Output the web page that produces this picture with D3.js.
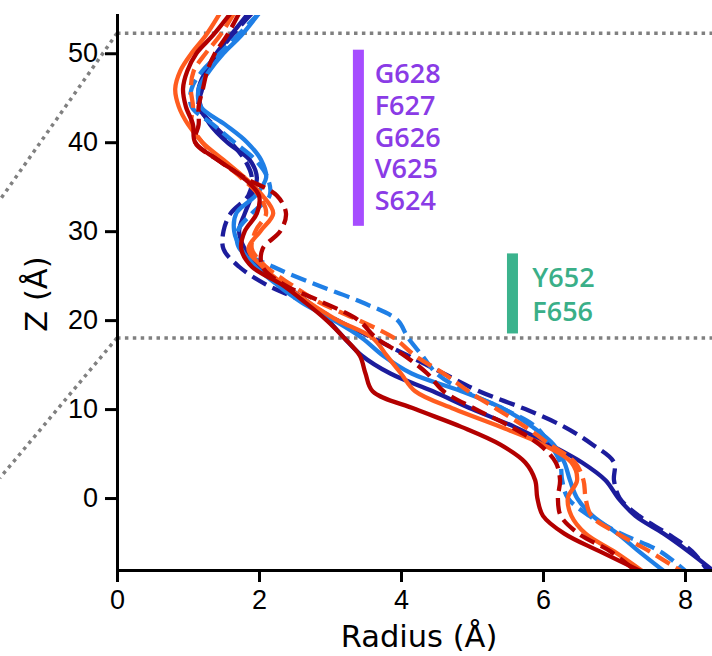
<!DOCTYPE html>
<html>
<head>
<meta charset="utf-8">
<script src="https://cdn.jsdelivr.net/npm/d3@7"></script>
<style>
  body { margin: 0; background: #fff; }
  svg { display: block; font-family: "DejaVu Sans", sans-serif; }
  .axis text { font-size: 27px; fill: #000; }
  .axis path, .axis line { stroke: #000; stroke-width: 3px; }
</style>
</head>
<body>
<svg width="712" height="656"></svg>
<script>
"use strict";
// z positions (Å) at which each profile was read
const zValues = [54.5, 52, 50, 48, 46, 44, 42, 40, 38, 36, 34, 32, 30, 28, 26, 24, 22, 20, 18, 16, 14, 12, 10, 8, 6, 4, 2, 0, -2, -4, -6, -8.5];

// pore radius profiles (Å)
const navySolid   = [1.85, 1.6, 1.4, 1.25, 1.15, 1.18, 1.31, 1.55, 1.87, 1.97, 1.9, 1.8, 1.72, 1.8, 2.0, 2.35, 2.7, 2.97, 3.2, 3.45, 3.85, 4.45, 5.0, 5.6, 6.1, 6.55, 6.88, 7.06, 7.3, 7.7, 8.05, 8.45];
const navyDashed  = [1.9, 1.62, 1.42, 1.25, 1.2, 1.15, 1.35, 1.6, 1.8, 1.9, 1.85, 1.6, 1.5, 1.5, 1.72, 2.1, 2.65, 3.1, 3.6, 4.1, 4.6, 5.1, 5.75, 6.3, 6.7, 7.0, 7.0, 7.08, 7.35, 7.75, 8.1, 8.35];
const blueSolid   = [2.0, 1.75, 1.5, 1.3, 1.15, 1.18, 1.52, 1.83, 2.03, 2.1, 1.95, 1.68, 1.65, 1.75, 1.95, 2.25, 2.6, 3.05, 3.45, 3.75, 4.15, 4.85, 5.45, 5.85, 6.15, 6.3, 6.38, 6.48, 6.7, 7.05, 7.35, 7.75];
const blueDashed  = [2.0, 1.7, 1.45, 1.2, 1.05, 1.05, 1.35, 1.65, 1.95, 2.12, 2.15, 1.9, 1.7, 1.73, 2.2, 2.8, 3.45, 3.95, 4.1, 4.3, 4.5, 4.9, 5.45, 5.9, 6.1, 6.24, 6.27, 6.35, 6.65, 7.1, 7.65, 8.05];
const orangeSolid = [1.45, 1.25, 1.05, 0.89, 0.82, 0.87, 1.0, 1.2, 1.5, 1.8, 2.05, 2.2, 2.02, 1.85, 2.05, 2.35, 2.7, 3.1, 3.6, 3.8, 4.0, 4.2, 4.75, 5.4, 6.0, 6.4, 6.48, 6.35, 6.4, 6.6, 7.0, 7.45];
const orangeDashed= [1.65, 1.45, 1.25, 1.08, 1.04, 1.07, 1.05, 1.2, 1.45, 1.75, 2.0, 2.1, 1.95, 1.9, 2.1, 2.45, 2.85, 3.4, 3.9, 4.2, 4.6, 4.95, 5.35, 5.75, 6.1, 6.45, 6.57, 6.6, 6.68, 7.05, 7.5, 8.0];
const redSolid    = [1.6, 1.35, 1.12, 0.99, 0.93, 0.97, 1.07, 1.1, 1.42, 1.78, 2.0, 1.97, 1.8, 1.75, 1.9, 2.32, 2.65, 2.95, 3.2, 3.42, 3.5, 3.6, 4.2, 4.85, 5.4, 5.75, 5.89, 5.92, 6.0, 6.3, 6.8, 7.45];
const redDashed   = [1.72, 1.55, 1.38, 1.27, 1.21, 1.15, 1.15, 1.1, 1.42, 1.8, 2.25, 2.38, 2.3, 2.05, 2.05, 2.35, 2.9, 3.4, 3.65, 4.05, 4.37, 4.6, 5.05, 5.55, 5.95, 6.18, 6.24, 6.21, 6.25, 6.5, 6.95, 7.35];

const seriesList = [
  { values: navySolid,    color: "#1c1c9c", dashed: false },
  { values: navyDashed,   color: "#1c1c9c", dashed: true },
  { values: blueSolid,    color: "#1f7fe6", dashed: false },
  { values: blueDashed,   color: "#1f7fe6", dashed: true },
  { values: orangeSolid,  color: "#ff5c1f", dashed: false },
  { values: orangeDashed, color: "#ff5c1f", dashed: true },
  { values: redSolid,     color: "#b30000", dashed: false },
  { values: redDashed,    color: "#b30000", dashed: true }
];

// membrane boundaries and their guide lines out to the left
const boundaryZ = [52.25, 18.0];
const guideEnds = [{ r: -1.65, z: 33.5 }, { r: -1.65, z: 2.25 }];

// residue annotations
const selectivityResidues = ["G628", "F627", "G626", "V625", "S624"];
const gateResidues = ["Y652", "F656"];

const svg = d3.select("svg");
const x = d3.scaleLinear().domain([0, 8.5]).range([117, 720.5]);
const y = d3.scaleLinear().domain([-8.09, 54.3]).range([570, 15]);

svg.append("defs").append("clipPath")
  .attr("id", "plotClip")
  .append("rect")
  .attr("x", 117).attr("y", 15)
  .attr("width", 600).attr("height", 555);

// dotted boundary lines
const dotted = svg.append("g")
  .attr("stroke", "#808080")
  .attr("stroke-width", 3.5)
  .attr("stroke-dasharray", "3.5,4.4")
  .attr("fill", "none");
boundaryZ.forEach((z, i) => {
  dotted.append("line")
    .attr("x1", x(0)).attr("x2", 712)
    .attr("y1", y(z)).attr("y2", y(z));
  dotted.append("line")
    .attr("x1", x(0)).attr("y1", y(z))
    .attr("x2", x(guideEnds[i].r)).attr("y2", y(guideEnds[i].z));
});

// profiles
const line = d3.line()
  .x(d => x(d.r))
  .y(d => y(d.z))
  .curve(d3.curveCatmullRom.alpha(0.5));

svg.append("g")
  .attr("clip-path", "url(#plotClip)")
  .selectAll("path")
  .data(seriesList)
  .enter()
  .append("path")
  .attr("d", s => line(s.values.map((r, i) => ({ r: r, z: zValues[i] }))))
  .attr("fill", "none")
  .attr("stroke", s => s.color)
  .attr("stroke-width", 4.3)
  .attr("stroke-linejoin", "round")
  .attr("stroke-dasharray", s => s.dashed ? "16,7" : null);

// annotation bars + labels
function annotate(labels, zTop, zBottom, rBar, rText, zFirst, step, barColor, textColor) {
  svg.append("rect")
    .attr("x", x(rBar) - 5.5)
    .attr("y", y(zTop))
    .attr("width", 11)
    .attr("height", y(zBottom) - y(zTop))
    .attr("fill", barColor);
  svg.append("g")
    .selectAll("text")
    .data(labels)
    .enter()
    .append("text")
    .attr("x", x(rText))
    .attr("y", (d, i) => y(zFirst - i * step))
    .attr("dy", "0.36em")
    .style("font-family", "'Open Sans', sans-serif")
    .style("font-weight", 600)
    .style("font-size", "27px")
    .style("fill", textColor)
    .text(d => d);
}
annotate(selectivityResidues, 50.4, 30.6, 3.4, 3.63, 47.75, 3.57, "#a64dff", "#8a3be6");
annotate(gateResidues, 27.5, 18.5, 5.57, 5.85, 24.8, 3.8, "#3bb38d", "#3aaf88");

// axes
const xAxis = svg.append("g")
  .attr("class", "axis")
  .attr("transform", `translate(0, ${y.range()[0]})`);
xAxis.call(d3.axisBottom(x)
  .tickValues(d3.range(0, 8.6, 0.5).filter(v => v % 2 !== 0))
  .tickSize(7)
  .tickSizeOuter(0)
  .tickFormat(""));
xAxis.call(d3.axisBottom(x)
  .tickValues([0, 2, 4, 6, 8])
  .tickSize(12)
  .tickSizeOuter(0)
  .tickPadding(8));

const yAxis = svg.append("g")
  .attr("class", "axis")
  .attr("transform", `translate(${x(0)}, 0)`);
yAxis.call(d3.axisLeft(y)
  .tickValues(d3.range(-8, 55, 2).filter(v => v % 10 !== 0))
  .tickSize(7)
  .tickSizeOuter(0)
  .tickFormat(""));
yAxis.call(d3.axisLeft(y)
  .tickValues([0, 10, 20, 30, 40, 50])
  .tickSize(12)
  .tickSizeOuter(0)
  .tickPadding(7));

svg.selectAll(".axis path.domain").attr("stroke-linecap", "square");

svg.append("text")
  .attr("x", 419)
  .attr("y", 647)
  .attr("text-anchor", "middle")
  .style("font-size", "30.5px")
  .text("Radius (Å)");

svg.append("text")
  .attr("transform", "translate(47, 294) rotate(-90)")
  .attr("text-anchor", "middle")
  .style("font-size", "30.5px")
  .text("Z (Å)");
</script>
</body>
</html>
